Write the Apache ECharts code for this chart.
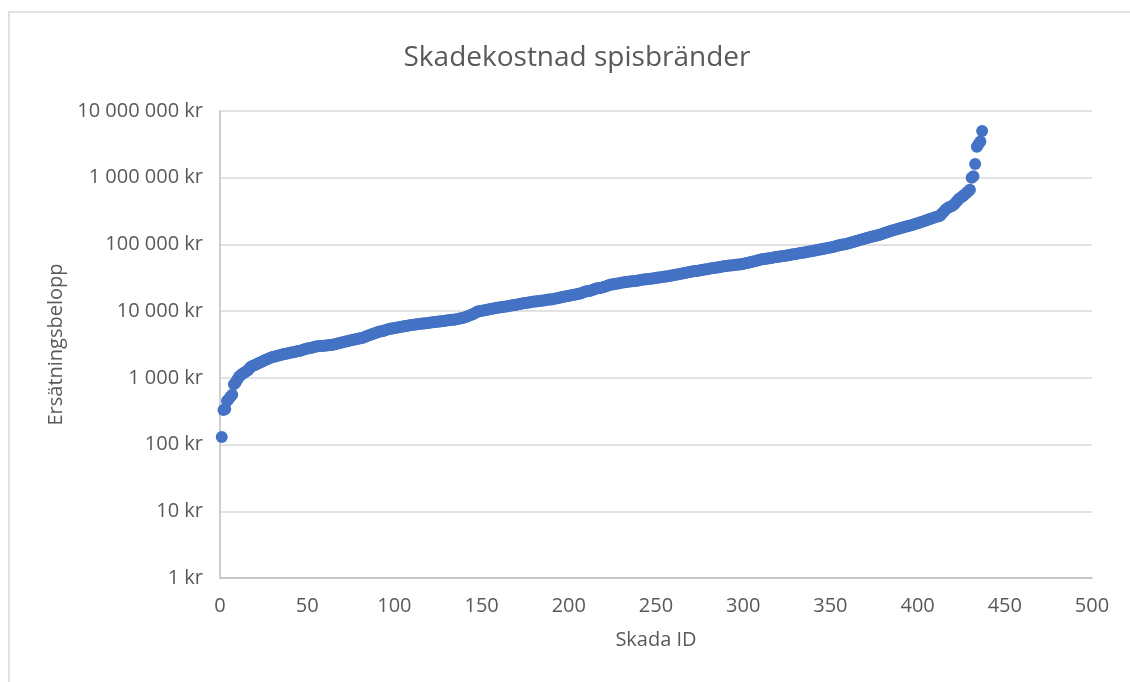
<!DOCTYPE html>
<html><head><meta charset="utf-8">
<script src="https://cdn.jsdelivr.net/npm/echarts@6/dist/echarts.min.js"></script>
<style>html,body{margin:0;padding:0;background:#fff}#c{width:1130px;height:682px}</style>
</head><body><div id="c"></div>
<script>
const chartTitle = 'Skadekostnad spisbränder';
const xAxisName = 'Skada ID';
const yAxisName = 'Ersätningsbelopp';
const xTicks = [0, 50, 100, 150, 200, 250, 300, 350, 400, 450, 500];
const yTicks = [1, 10, 100, 1000, 10000, 100000, 1000000, 10000000];
// claim amounts (kr), sorted, one per claim ID starting at 1
const claimAmounts = [
  130, 330, 340, 450, 480, 520, 560, 800, 850, 950,
  1050, 1100, 1150, 1200, 1250, 1300, 1400, 1480, 1520, 1560,
  1600, 1650, 1700, 1750, 1800, 1850, 1900, 1950, 2000, 2050,
  2080, 2100, 2150, 2180, 2200, 2250, 2280, 2300, 2340, 2380,
  2400, 2420, 2450, 2500, 2520, 2550, 2600, 2650, 2700, 2750,
  2780, 2800, 2850, 2900, 2950, 2980, 3000, 3000, 3020, 3040,
  3050, 3080, 3100, 3120, 3150, 3200, 3250, 3300, 3350, 3400,
  3450, 3500, 3550, 3600, 3650, 3700, 3750, 3800, 3850, 3900,
  3950, 4000, 4100, 4200, 4300, 4400, 4500, 4600, 4700, 4800,
  4900, 5000, 5000, 5100, 5200, 5300, 5400, 5500, 5500, 5600,
  5650, 5700, 5800, 5850, 5900, 6000, 6000, 6100, 6150, 6200,
  6250, 6300, 6350, 6400, 6450, 6500, 6550, 6600, 6650, 6700,
  6750, 6800, 6850, 6900, 7000, 7000, 7050, 7100, 7200, 7250,
  7300, 7350, 7400, 7450, 7500, 7600, 7700, 7800, 7900, 8000,
  8200, 8400, 8600, 8800, 9000, 9300, 9600, 10000, 10000, 10100,
  10200, 10300, 10500, 10600, 10800, 10900, 11000, 11100, 11200, 11300,
  11400, 11500, 11600, 11700, 11800, 12000, 12100, 12300, 12400, 12500,
  12700, 12800, 13000, 13100, 13200, 13400, 13500, 13600, 13800, 13900,
  14000, 14100, 14200, 14300, 14400, 14500, 14700, 14900, 15000, 15000,
  15200, 15400, 15600, 15800, 16000, 16200, 16400, 16600, 16800, 17000,
  17200, 17400, 17600, 17800, 18000, 18300, 18600, 19000, 19400, 19800,
  20000, 20000, 20500, 21000, 21500, 22000, 22000, 22300, 22600, 23000,
  23500, 24000, 24500, 25000, 25000, 25500, 25800, 26000, 26300, 26600,
  26900, 27200, 27400, 27600, 27800, 28000, 28000, 28300, 28600, 28900,
  29200, 29500, 29800, 30000, 30000, 30300, 30600, 30900, 31200, 31500,
  31800, 32000, 32300, 32600, 33000, 33000, 33400, 33800, 34200, 34600,
  35000, 35400, 35800, 36200, 36600, 37000, 37500, 38000, 38500, 39000,
  39400, 39800, 40000, 40400, 40800, 41200, 41600, 42000, 42500, 43000,
  43400, 43800, 44200, 44600, 45000, 45500, 46000, 46500, 47000, 47500,
  48000, 48300, 48500, 48700, 49000, 49500, 50000, 50000, 50600, 51200,
  51800, 52500, 53200, 54000, 54800, 55600, 56500, 57400, 58300, 59200,
  60000, 60500, 61000, 61600, 62200, 62800, 63400, 64000, 64600, 65200,
  65800, 66400, 67000, 67700, 68400, 69100, 69800, 70500, 71200, 72000,
  72800, 73500, 74300, 75000, 75800, 76600, 77500, 78400, 79300, 80000,
  81000, 82000, 83000, 84000, 85000, 86000, 87000, 88000, 89000, 90000,
  91000, 92500, 94000, 95500, 97000, 98500, 100000, 100000, 101500, 103000,
  105000, 107000, 109000, 111000, 113000, 115000, 117000, 119000, 121000, 123000,
  125000, 127000, 129000, 131000, 133000, 135000, 137000, 139000, 142000, 145000,
  148000, 151000, 154000, 157000, 160000, 163000, 166000, 169000, 172000, 175000,
  178000, 181000, 184000, 187000, 190000, 193000, 196000, 200000, 204000, 208000,
  212000, 216000, 220000, 225000, 230000, 235000, 240000, 245000, 250000, 255000,
  260000, 265000, 270000, 290000, 310000, 330000, 350000, 360000, 370000, 380000,
  400000, 430000, 460000, 490000, 510000, 530000, 560000, 590000, 620000, 660000,
  1000000, 1050000, 1600000, 2900000, 3200000, 3500000, 5000000
];

const seriesData = claimAmounts.map((v, i) => [i + 1, v]);
const FONT = "'Open Sans', sans-serif";
const TXT = '#595959';

function krLabel(v) {
  const s = String(Math.round(v)).replace(/\B(?=(\d{3})+(?!\d))/g, ' ');
  return s + ' kr';
}

const chart = echarts.init(document.getElementById('c'), null, { renderer: 'canvas' });
chart.setOption({
  backgroundColor: '#ffffff',
  animation: false,
  title: {
    text: chartTitle,
    left: 572,
    top: 39,
    textAlign: 'center',
    textStyle: { fontFamily: FONT, fontSize: 28, fontWeight: 'normal', color: TXT }
  },
  graphic: [{
    type: 'rect',
    shape: { x: 9, y: 12, width: 1300, height: 900 },
    style: { fill: 'none', stroke: '#d9d9d9', lineWidth: 1.5 },
    silent: true
  }],
  grid: { left: 220, right: 38, top: 111, bottom: 104, containLabel: false },
  xAxis: {
    type: 'value',
    min: xTicks[0],
    max: xTicks[xTicks.length - 1],
    interval: xTicks[1] - xTicks[0],
    name: xAxisName,
    nameLocation: 'middle',
    nameGap: 52,
    nameTextStyle: { fontFamily: FONT, fontSize: 20, color: TXT },
    axisLine: { show: true, lineStyle: { color: '#bfbfbf', width: 1.5 } },
    axisTick: { show: false },
    splitLine: { show: false },
    axisLabel: { fontFamily: FONT, fontSize: 20, color: TXT, margin: 18 }
  },
  yAxis: {
    type: 'log',
    logBase: 10,
    min: yTicks[0],
    max: yTicks[yTicks.length - 1],
    name: yAxisName,
    nameLocation: 'middle',
    nameGap: 145,
    nameRotate: 90,
    nameTextStyle: { fontFamily: FONT, fontSize: 20, color: TXT },
    axisLine: { show: true, lineStyle: { color: '#bfbfbf', width: 1.5 } },
    axisTick: { show: false },
    splitLine: { show: true, lineStyle: { color: '#d9d9d9', width: 1.5 } },
    axisLabel: { fontFamily: FONT, fontSize: 20, color: TXT, margin: 17, formatter: krLabel }
  },
  series: [{
    type: 'scatter',
    data: seriesData,
    symbol: 'circle',
    symbolSize: 12,
    itemStyle: { color: '#4472C4', opacity: 1 }
  }]
});
</script>
</body></html>
